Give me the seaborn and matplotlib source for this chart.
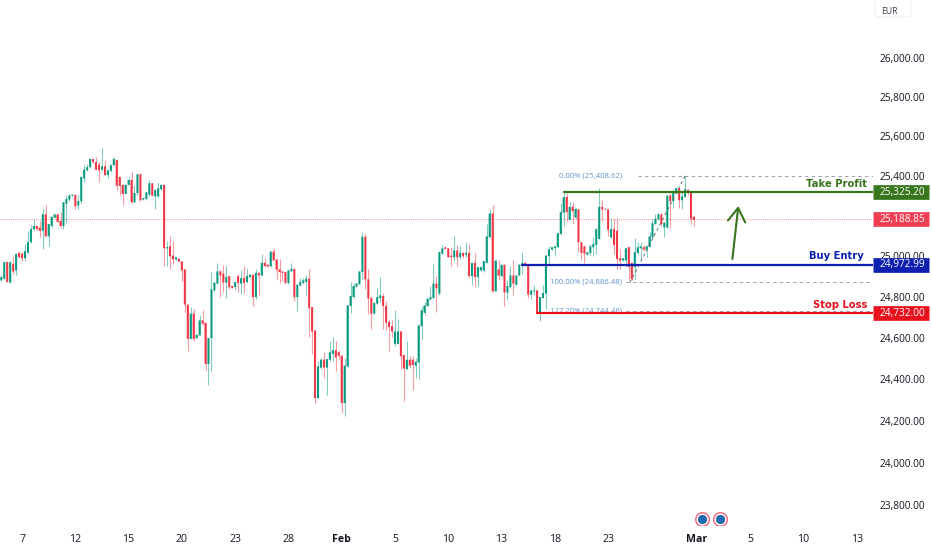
import matplotlib
matplotlib.use("Agg")
import matplotlib.pyplot as plt
import numpy as np
import pandas as pd
import seaborn as sns
from matplotlib.patches import FancyBboxPatch
from matplotlib.ticker import NullFormatter, NullLocator
from matplotlib.transforms import blended_transform_factory

# candle prices (4h bars)
opens = [
    24882,24890,24972,24871,24964,24931,25018,25013,24991,25018,
    25070,25135,25151,25143,25127,25209,25099,25151,25192,25209,
    25176,25151,25262,25282,25302,25307,25253,25274,25388,25429,
    25445,25486,25470,25457,25432,25449,25405,25426,25454,25481,
    25396,25356,25311,25356,25380,25269,25315,25409,25282,25285,
    25307,25364,25298,25298,25334,25356,25040,25050,25004,24985,
    24988,24975,24936,24763,24596,24719,24600,24613,24686,24675,
    24474,24600,24833,24866,24926,24915,24871,24903,24854,24849,
    24903,24866,24893,24874,24898,24910,24800,24919,24906,24968,
    24959,24952,25024,24985,24936,24926,24923,24869,24926,24939,
    24800,24857,24870,24874,24890,24751,24637,24310,24457,24495,
    24457,24495,24523,24541,24531,24514,24286,24462,24756,24800,
    24851,24862,24923,25097,24887,24795,24719,24768,24795,24805,
    24756,24678,24658,24572,24572,24632,24518,24449,24495,24495,
    24466,24482,24658,24723,24756,24789,24795,24866,24817,25013,
    25045,25040,25004,24996,25029,24996,25017,25008,25017,
    24903,24968,24898,24931,24931,24968,25094,25213,24828,24936,
    24903,24959,24822,24849,24906,24861,24906,24955,24968,24959,
    24812,24828,24833,24724,24795,24817,25001,25034,25040,25045,
    25111,25217,25295,25181,25246,25192,25233,25070,25050,25008,
    25017,25045,25057,25086,25246,25236,25233,25094,25135,25127,
    24991,24980,24980,25045,24968,24947,25017,25040,25045,25034,
    25047,25094,25160,25184,25209,25143,25143,25302,25274,25318,
    25339,25279,25295,25331,25315,25197,
]
closes = [
    24898,24972,24874,24972,24926,25013,24996,24991,25026,25070,
    25135,25151,25135,25127,25209,25099,25160,25197,25209,25171,
    25151,25269,25285,25302,25307,25249,25274,25396,25432,25445,
    25486,25470,25432,25429,25449,25405,25429,25454,25486,25351,
    25351,25311,25356,25380,25269,25315,25409,25279,25290,25318,
    25364,25302,25331,25339,25356,25040,25045,25001,24985,24996,
    24975,24931,24763,24596,24719,24596,24616,24686,24670,24474,
    24600,24838,24871,24926,24906,24871,24898,24849,24844,24874,
    24869,24893,24869,24903,24910,24800,24919,24906,24968,24952,
    24950,25024,24980,24934,24923,24919,24869,24931,24939,24800,
    24861,24874,24882,24890,24746,24632,24310,24462,24495,24457,
    24498,24531,24541,24506,24514,24286,24466,24759,24805,24854,
    24866,24926,25097,24887,24792,24719,24772,24800,24808,24756,
    24675,24653,24632,24632,24632,24511,24452,24495,24466,24469,
    24485,24661,24735,24759,24792,24800,24866,24844,25021,25040,
    25037,24996,24996,25029,24996,25017,25001,25017,24903,
    24968,24898,24947,24947,24977,25099,25213,24828,24980,24906,
    24959,24822,24854,24906,24866,24906,24959,24968,24955,24812,
    24833,24833,24724,24800,24820,25004,25034,25045,25050,25115,
    25220,25295,25220,25246,25225,25236,25070,25017,25013,25021,
    25050,25062,25135,25246,25233,25233,25132,25135,25057,24988,
    24980,24991,25040,24947,24887,25021,25045,25050,25034,25050,
    25099,25164,25187,25209,25160,25168,25302,25274,25323,25339,
    25279,25298,25334,25315,25187,25181,
]
highs = [
    24906,24972,24972,24972,25004,25013,25020,25024,25062,25127,
    25155,25184,25153,25176,25233,25253,25160,25197,25211,25211,
    25220,25269,25307,25311,25309,25307,25307,25396,25454,25462,
    25486,25488,25498,25470,25543,25481,25429,25462,25494,25481,
    25396,25356,25356,25393,25421,25356,25409,25413,25292,25323,
    25380,25367,25331,25372,25356,25356,25078,25099,25078,24998,
    24990,24975,24936,24763,24751,24743,24618,24714,24735,24675,
    24600,24923,24874,24967,24931,24959,24952,24903,24856,24874,
    24915,24931,24955,24942,24912,24910,24936,24919,25013,24991,
    24961,25024,25040,24985,24985,24926,24923,24931,24968,24939,
    24861,24893,24893,24906,24939,24751,24637,24490,24501,24534,
    24498,24588,24604,24588,24541,24518,24501,24759,24874,24870,
    24868,24926,25122,25110,24936,24805,24772,24844,24898,24821,
    24779,24691,24686,24735,24694,24632,24518,24588,24514,24514,
    24501,24670,24756,24776,24795,24854,24964,24903,25029,25057,
    25047,25040,25045,25102,25057,25053,25024,25073,25062,
    24968,25017,24947,24952,24977,25160,25236,25253,24980,24980,
    24959,24959,24882,24952,24980,24910,24964,25021,24970,24959,
    24833,24861,24833,24800,24857,25008,25050,25047,25050,25115,
    25266,25315,25315,25269,25269,25241,25236,25070,25050,25023,
    25062,25094,25143,25339,25279,25238,25236,25192,25187,25192,
    25037,24993,25045,25050,24968,25089,25070,25070,25057,25057,
    25119,25187,25209,25217,25217,25168,25307,25315,25328,25344,
    25339,25323,25405,25334,25315,25200,
]
lows = [
    24877,24890,24874,24871,24915,24910,24994,24975,24975,25018,
    25067,25132,25133,25094,25037,25099,25053,25143,25190,25169,
    25143,25138,25168,25274,25300,25233,25233,25262,25372,25426,
    25442,25468,25429,25372,25432,25405,25388,25421,25454,25331,
    25307,25253,25311,25356,25266,25269,25307,25274,25280,25282,
    25298,25298,25233,25295,25331,24955,24955,24939,24964,24983,
    24973,24877,24727,24539,24596,24588,24598,24613,24662,24446,
    24371,24441,24825,24866,24800,24825,24795,24841,24842,24833,
    24825,24817,24821,24870,24896,24756,24792,24812,24903,24947,
    24948,24949,24980,24887,24870,24877,24866,24866,24926,24779,
    24730,24854,24866,24812,24604,24523,24286,24310,24449,24408,
    24327,24490,24490,24441,24498,24240,24224,24462,24723,24795,
    24849,24862,24887,24841,24719,24642,24719,24768,24776,24642,
    24637,24539,24604,24563,24572,24452,24294,24449,24457,24348,
    24408,24403,24596,24710,24756,24784,24795,24727,24812,25013,
    25035,24996,24955,24975,24952,24985,24991,24996,24893,
    24857,24849,24849,24926,24923,24968,25094,24825,24828,24882,
    24898,24756,24784,24844,24812,24861,24906,24915,24953,24795,
    24792,24808,24719,24681,24795,24740,24959,25032,25004,25045,
    25106,25151,25176,25181,25160,25184,25021,24980,24968,25006,
    25008,25001,25013,25086,25176,25231,25099,25089,25013,24939,
    24936,24978,24947,24882,24882,24890,25013,24988,25029,24996,
    25045,25086,25160,25181,25151,25094,25143,25143,25241,25315,
    25241,25233,25295,25307,25160,25151,
]

# 25,200 sits fully behind the last price tag in the picture
price_ticks = [26000, 25800, 25600, 25400, 25000, 24800, 24600, 24400, 24200, 24000, 23800]
date_pos = [7, 25, 43, 61, 79, 97, 115, 133, 151, 169, 187, 205, 235, 253, 271, 289]
date_labels = ["7", "12", "15", "20", "23", "28", "Feb", "5", "10", "13", "18", "23", "Mar", "5", "10", "13"]

# horizontal levels as they sit on the picture
level_names = ["Take Profit", "Buy Entry", "Stop Loss"]
level_prices = [25320, 24960, 24720]
level_starts = [190, 176, 181]
level_tags = ["25,325.20", "24,972.99", "24,732.00"]
level_colors = ["#38761d", "#0c1fb0", "#e8101c"]
name_prices = [25360, 25002, 24761]
name_ends = [292.5, 291.5, 292.5]

last_price = 25183
last_tag = "25,188.85"

fib_prices = [25400, 24872, 24733]
fib_starts = [215, 211, 211]
fib_labels = ["0.00% (25,408.62)", "100.00% (24,886.48)", "127.20% (24,744.46)"]
fib_x = [212.4, 231]
fib_y = [24872, 25400]

arrow_x = [247, 249]
arrow_y = [24987, 25250]
event_x = [236.8, 242.9]
event_y = [23736, 23736]

UP = "#089981"
DOWN = "#f23645"

sns.set_theme(style="white")
plt.rcParams["font.family"] = ["Open Sans", "DejaVu Sans"]

W, H = 932, 550
fig = plt.figure(figsize=(W / 100, H / 100), dpi=100)
ax = fig.add_axes([0, 1 - 525 / H, 873 / W, 525 / H])

df = pd.DataFrame({"o": opens, "h": highs, "l": lows, "c": closes})
df["x"] = np.arange(len(df))
cols = np.where(df["c"] >= df["o"], UP, DOWN)

ax.vlines(df["x"], df["l"], df["h"], colors=cols, linewidth=0.8, alpha=0.5, zorder=2)
ax.bar(df["x"], (df["c"] - df["o"]).abs(), bottom=df[["o", "c"]].min(axis=1), width=0.68,
       color=cols, linewidth=0, zorder=3, snap=False)

ax.set_yscale("log")
ax.set_ylim(23708, 26299)
ax.set_xlim(-0.44, 294.5)

# last price
ax.axhline(last_price, color=DOWN, lw=0.6, ls=(0, (1, 1.5)), alpha=0.7, zorder=1)

# fib levels
fib_col = "#5f92cc"
for p, s, lab in zip(fib_prices, fib_starts, fib_labels):
    ax.plot([s, 294.5], [p, p], color="#8a939c", lw=0.6, ls=(0, (4, 4)), zorder=2)
    ax.text(209.8, p, lab, color=fib_col, fontsize=5.6, ha="right", va="center", zorder=5)
ax.plot(fib_x, fib_y, color="#5d7068", lw=0.7, ls=(0, (3, 3)), zorder=4)

# price tags on the scale: a fat butt-capped line from the axes edge out to x=929
tag_tf = blended_transform_factory(fig.transFigure, ax.transData)


def price_tag(text, price, color):
    ax.plot([873 / W, 929 / W], [price, price], color=color, lw=10.6, solid_capstyle="butt",
            transform=tag_tf, clip_on=False, zorder=7)
    ax.text(880 / W, price, text, transform=tag_tf, color="white", fontsize=7.3, ha="left",
            va="center", clip_on=False, zorder=8)


# trade levels
for name, p, s, tag, c, np_, ne in zip(level_names, level_prices, level_starts, level_tags,
                                       level_colors, name_prices, name_ends):
    sns.lineplot(x=[s, 294.5], y=[p, p], color=c, linewidth=1.6, ax=ax, zorder=6)
    ax.text(ne, np_, name, color=c, fontsize=7.2, ha="right", va="center", fontweight="semibold",
            family="DejaVu Sans", zorder=6)
    price_tag(tag, p, c)

price_tag(last_tag, last_price, "#ee3f55")

# arrow
ax.annotate("", xy=(arrow_x[1], arrow_y[1]), xytext=(arrow_x[0], arrow_y[0]),
            arrowprops=dict(arrowstyle="->,head_length=0.7,head_width=0.45", color="#38761d", lw=1.5,
                            shrinkA=0, shrinkB=0, mutation_scale=14), zorder=6)

# event marks on the time axis
sns.scatterplot(x=event_x, y=event_y, s=95, color="white", edgecolor="#ef6f85", linewidth=1.1, ax=ax, zorder=7)
sns.scatterplot(x=event_x, y=event_y, s=38, color="#1f6db5", edgecolor="#174f85", linewidth=0.4, ax=ax, zorder=8)

# axes
for s in ax.spines.values():
    s.set_visible(False)
ax.yaxis.tick_right()
ax.set_yticks(price_ticks)
ax.set_yticklabels([f"{p:,.2f}" for p in price_ticks])
ax.yaxis.set_minor_locator(NullLocator())
ax.yaxis.set_minor_formatter(NullFormatter())
ax.tick_params(axis="y", length=0, pad=5, labelsize=7.3, labelcolor="#131722")
ax.set_xticks(date_pos)
ax.set_xticklabels(date_labels)
ax.tick_params(axis="x", length=0, pad=6.2, labelsize=7.6, labelcolor="#131722")
for t, lab in zip(ax.get_xticklabels(), date_labels):
    if lab in ("Feb", "Mar"):
        t.set_fontweight("bold")
ax.grid(False)
ax.set_xlabel("")
ax.set_ylabel("")

# currency box in the corner
fig.add_artist(FancyBboxPatch((875 / W, 1 - 17 / H), 36 / W, 24 / H, boxstyle="round,pad=0,rounding_size=0.006",
                              transform=fig.transFigure, fc="white", ec="#f0f0f0", lw=0.8))
fig.text(881 / W, 1 - 11 / H, "EUR", fontsize=6.2, color="#3a3f4a", ha="left", va="center")

fig.savefig("out.png", dpi=100)
